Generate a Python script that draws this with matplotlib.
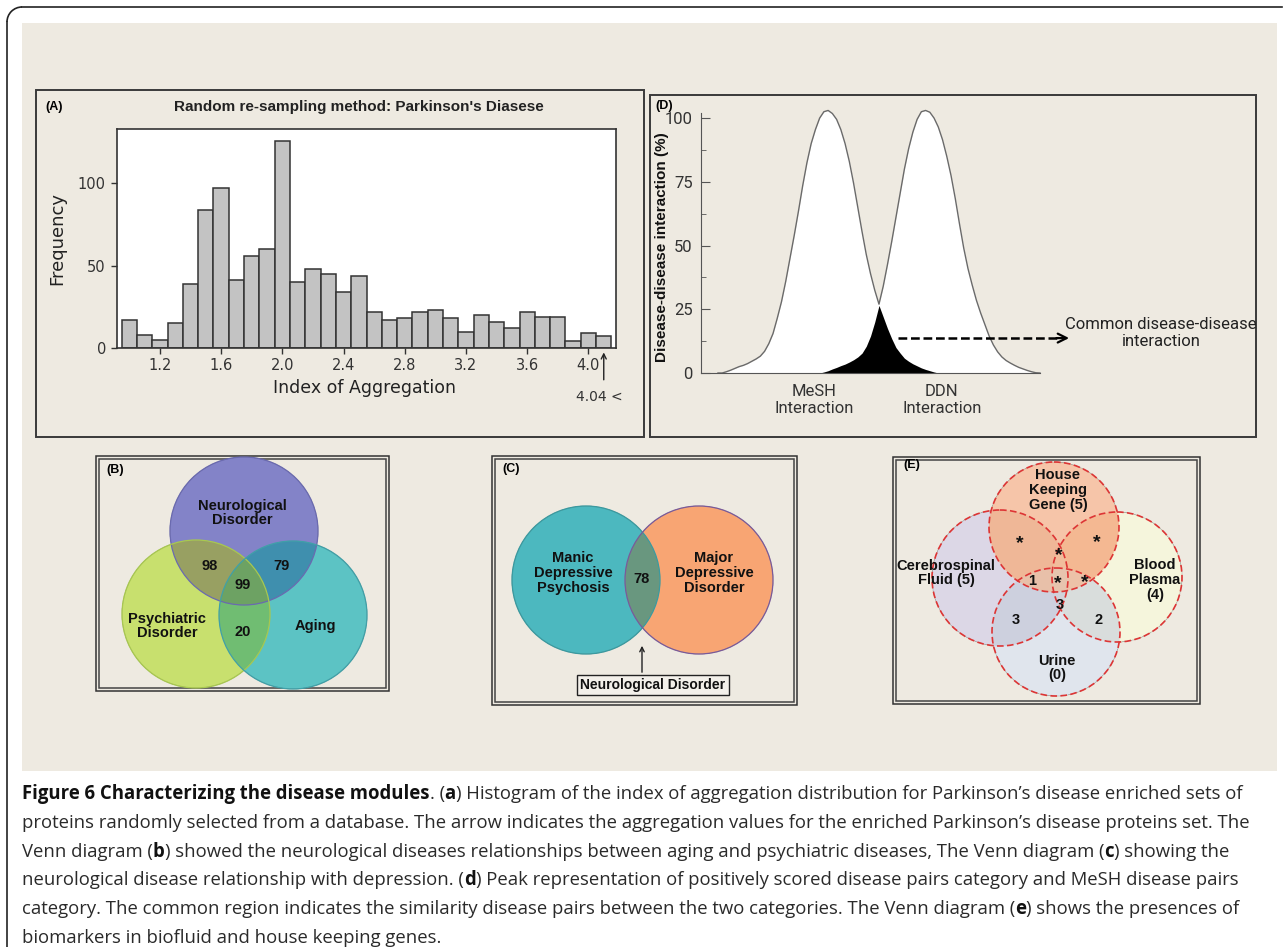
import numpy as np
import matplotlib.pyplot as plt
from matplotlib.patches import Rectangle, Circle, Arc
from matplotlib.colors import to_rgba

W, H = 1287, 947

# ---- panel A: histogram of index of aggregation ----
agg_bins = [1.0, 1.1, 1.2, 1.3, 1.4, 1.5, 1.6, 1.7, 1.8, 1.9, 2.0, 2.1, 2.2, 2.3, 2.4, 2.5,
            2.6, 2.7, 2.8, 2.9, 3.0, 3.1, 3.2, 3.3, 3.4, 3.5, 3.6, 3.7, 3.8, 3.9, 4.0, 4.1]
agg_freq = [17, 8, 5, 15, 39, 84, 97, 41, 56, 60, 126, 40, 48, 45, 34, 44,
            22, 17, 18, 22, 23, 18, 10, 20, 16, 12, 22, 19, 19, 4, 9, 7]
agg_ticks = [1.2, 1.6, 2.0, 2.4, 2.8, 3.2, 3.6, 4.0]
freq_ticks = [0, 50, 100]
pd_label = "4.04 <"
pd_arrow_at = 4.1

# ---- panel D: peak curves (x in arbitrary units 0-100) ----
peak_x = [5, 6.25, 7.5, 8.75, 10, 11.25, 12.5, 13.75, 15, 16.25, 17.5, 18.75, 20, 21.25,
          22.5, 23.75, 25, 26.25, 27.5, 28.75, 30, 31.25, 32.5, 33.75, 35, 36.25, 37.5,
          38.75, 40, 41.25, 42.5, 43.75, 45, 46.25, 47.5, 48.75, 50, 51.25, 52.5, 53.75,
          55, 56.25, 57.5, 58.75, 60, 61.25, 62.5, 63.75, 65, 66.25, 67.5, 68.75, 70,
          71.25, 72.5, 73.75, 75, 76.25, 77.5, 78.75, 80, 81.25, 82.5, 83.75, 85, 86.25,
          87.5, 88.75, 90, 91.25, 92.5, 93.75, 95, 96.25, 97.5, 98.75, 100]
mesh_pct = [0, 0, 0.5, 1.1, 1.8, 2.5, 3.0, 3.7, 4.6, 5.5, 6.6, 8.5, 11.5, 15.5,
            21.5, 28, 36, 45, 54, 63.5, 73.5, 82.5, 90, 95.5, 100, 102.5, 103,
            101.8, 99.5, 95.5, 90, 83, 74.5, 65, 55.5, 46.5, 39, 32.5, 27, 22,
            17.5, 13.5, 10, 7.8, 5.8, 4.6, 3.6, 2.8, 2.0, 1.4, 0.9, 0.4, 0,
            0, 0, 0, 0, 0, 0, 0, 0, 0, 0, 0, 0, 0,
            0, 0, 0, 0, 0, 0, 0, 0, 0, 0, 0]
ddn_pct = [0, 0, 0, 0, 0, 0, 0, 0, 0, 0, 0, 0, 0, 0,
           0, 0, 0, 0, 0, 0, 0, 0, 0, 0, 0, 0.4, 0.9,
           1.6, 2.2, 2.9, 3.5, 4.3, 5.2, 6.3, 7.8, 10.5, 14.5, 20, 26.5, 34,
           42.5, 51.5, 61, 70.5, 80, 88, 94.5, 99.5, 102.5, 103, 102.3, 100, 96.5,
           91.5, 85, 77.5, 68.5, 58.5, 49, 41, 34.5, 28.5, 23.5, 19, 14.5, 11,
           8.3, 6.3, 4.9, 3.9, 3.0, 2.2, 1.6, 1.0, 0.5, 0.1, 0]
pct_ticks = [0, 25, 50, 75, 100]
peak_names = ["MeSH\nInteraction", "DDN\nInteraction"]
common_level = 13.7

# ---- panels B, C, E: Venn diagrams ----
b_sets = ["Neurological\nDisorder", "Psychiatric\nDisorder", "Aging"]
b_counts = ["98", "79", "99", "20"]
c_sets = ["Manic\nDepressive\nPsychosis", "Major\nDepressive\nDisorder"]
c_count = "78"
c_note = "Neurological Disorder"
e_sets = ["House\nKeeping\nGene (5)", "Cerebrospinal\nFluid (5)", "Blood\nPlasma\n(4)", "Urine\n(0)"]
e_counts = ["*", "*", "*", "1", "*", "*", "3", "3", "2"]

caption = [
    [("Figure 6 Characterizing the disease modules", True), (". (", False), ("a", True),
     (") Histogram of the index of aggregation distribution for Parkinson\u2019s disease enriched sets of", False)],
    [("proteins randomly selected from a database. The arrow indicates the aggregation values for the enriched Parkinson\u2019s disease proteins set. The", False)],
    [("Venn diagram (", False), ("b", True),
     (") showed the neurological diseases relationships between aging and psychiatric diseases, The Venn diagram (", False),
     ("c", True), (") showing the", False)],
    [("neurological disease relationship with depression. (", False), ("d", True),
     (") Peak representation of positively scored disease pairs category and MeSH disease pairs", False)],
    [("category. The common region indicates the similarity disease pairs between the two categories. The Venn diagram (", False),
     ("e", True), (") shows the presences of", False)],
    [("biomarkers in biofluid and house keeping genes.", False)],
]

BEIGE = '#eeeae1'
NARROW = ['Roboto', 'DejaVu Sans']
ARIAL = ['Liberation Sans', 'DejaVu Sans']

fig = plt.figure(figsize=(W / 100, H / 100), dpi=100)
fig.patch.set_facecolor('white')

# overlay axes in pixel units (y down)
ov = fig.add_axes([0, 0, 1, 1])
ov.set_xlim(0, W)
ov.set_ylim(H, 0)
ov.axis('off')

# page border with rounded corner, beige plate
ov.plot([7, 7], [22, H], color='#222', lw=1.2)
ov.plot([22, 1282], [7, 7], color='#222', lw=1.2)
ov.add_patch(Arc((22, 22), 30, 30, theta1=180, theta2=270, color='#222', lw=1.2))
ov.add_patch(Rectangle((22, 23), 1255, 748, facecolor=BEIGE, edgecolor='none'))

# single frames (A, D)
ov.add_patch(Rectangle((36, 90), 608, 347, fill=False, edgecolor='#3a3a3a', lw=1.4))
ov.add_patch(Rectangle((650, 95), 606, 342, fill=False, edgecolor='#3a3a3a', lw=1.4))


def double_frame(x0, y0, x1, y1):
    ov.add_patch(Rectangle((x0, y0), x1 - x0, y1 - y0, fill=False, edgecolor='#333', lw=1.1))
    ov.add_patch(Rectangle((x0 + 3, y0 + 3), x1 - x0 - 6, y1 - y0 - 6, fill=False,
                           edgecolor='#444', lw=1.1))


double_frame(96, 456, 389, 691)
double_frame(492, 456, 797, 705)
double_frame(893, 457, 1200, 704)


def venn_fill(circles, palette, box):
    x0, y0, x1, y1 = box
    xs = np.arange(x0, x1, 0.5) + 0.25
    ys = np.arange(y0, y1, 0.5) + 0.25
    X, Y = np.meshgrid(xs, ys)
    code = np.zeros(X.shape, dtype=int)
    for i, (cx, cy, r) in enumerate(circles):
        code |= (((X - cx) ** 2 + (Y - cy) ** 2) <= r * r).astype(int) << i
    rgba = np.zeros(X.shape + (4,))
    for k, col in palette.items():
        rgba[code == k] = to_rgba(col)
    ov.imshow(rgba, extent=(x0, x1, y1, y0), interpolation='antialiased',
              aspect='auto', zorder=2)


# ---- panel B ----
b_circ = [(244, 531, 74), (196, 614, 74), (293, 615, 74)]
venn_fill(b_circ, {1: '#8383c9', 2: '#c9e06e', 4: '#5cc3c4', 3: '#98a062',
                   5: '#3f8fae', 6: '#70bd72', 7: '#6da263'}, (100, 455, 386, 690))
for (cx, cy, r), ec in zip(b_circ, ['#6a6ab0', '#a8c850', '#40a0a8']):
    ov.add_patch(Circle((cx, cy), r, fill=False, edgecolor=ec, lw=0.9, zorder=3))
bfont = dict(family=ARIAL, fontweight='bold', fontsize=10.5, color='#111',
             ha='center', va='center', zorder=4, linespacing=1.05)
ov.text(242, 513, b_sets[0], **bfont)
ov.text(167, 626, b_sets[1], **bfont)
ov.text(315, 626, b_sets[2], **bfont)
for (tx, ty), s in zip([(210, 566), (282, 566), (243, 585), (243, 632)], b_counts):
    ov.text(tx, ty, s, **bfont)
ov.text(106, 470, "(B)", family=ARIAL, fontweight='bold', fontsize=9, ha='left', va='center')

# ---- panel C ----
c_circ = [(586, 580, 74), (699, 580, 74)]
venn_fill(c_circ, {1: '#4db8bf', 2: '#f8a674', 3: '#6a977f'}, (496, 500, 794, 660))
for (cx, cy, r), ec in zip(c_circ, ['#3a9aa0', '#7a5a9a']):
    ov.add_patch(Circle((cx, cy), r, fill=False, edgecolor=ec, lw=0.9, zorder=3))
ov.text(573, 573, c_sets[0], **bfont)
ov.text(714, 573, c_sets[1], **bfont)
ov.text(642, 579, c_count, **bfont)
ov.annotate('', xy=(642, 643), xytext=(642, 675),
            arrowprops=dict(arrowstyle='->', color='#222', lw=1, mutation_scale=8), zorder=4)
ov.text(653, 685, c_note, family=ARIAL, fontweight='bold', fontsize=10, color='#111',
        ha='center', va='center', zorder=4,
        bbox=dict(boxstyle='square,pad=0.22', fc='#f3f0ea', ec='#222', lw=1))
ov.text(502, 469, "(C)", family=ARIAL, fontweight='bold', fontsize=9, ha='left', va='center')

# ---- panel E ----
e_circ = [(1054, 527, 65), (1000, 578, 68), (1117, 577, 65), (1056, 632, 64)]
e_pal = {1: '#f6c5a9', 2: '#dcd8e6', 4: '#f5f5dc', 8: '#e0e5ee', 3: '#efb797',
         5: '#f4b992', 7: '#f1be9c', 9: '#eec6ae', 11: '#e9c0a9', 13: '#ecc2a8',
         15: '#e8c4ae', 10: '#cdd0de', 12: '#d9dddc', 14: '#d2d3da', 6: '#d8d6d8'}
venn_fill(e_circ, e_pal, (897, 460, 1197, 701))
for cx, cy, r in e_circ:
    ov.add_patch(Circle((cx, cy), r, fill=False, edgecolor='#dd3535', lw=1.2,
                        linestyle=(0, (4, 2)), zorder=3))
ov.text(1058, 490, e_sets[0], **bfont)
ov.text(946, 573, e_sets[1], **bfont)
ov.text(1155, 580, e_sets[2], **bfont)
ov.text(1057, 668, e_sets[3], **bfont)
e_pos = [(1020, 544), (1097, 543), (1059, 556), (1032, 581), (1058, 584), (1085, 583),
         (1060, 605), (1016, 620), (1099, 620)]
for (tx, ty), s in zip(e_pos, e_counts):
    fs = 14 if s == "*" else 10.5
    ov.text(tx, ty, s, family=ARIAL, fontweight='bold', fontsize=fs, color='#111',
            ha='center', va='center', zorder=4)
ov.text(903, 465, "(E)", family=ARIAL, fontweight='bold', fontsize=9, ha='left', va='center')

# ---- panel A ----
ov.text(45, 107, "(A)", family=ARIAL, fontweight='bold', fontsize=9, ha='left', va='center')
ax = fig.add_axes([117 / W, 1 - 348 / H, 499 / W, 219 / H])
ax.set_facecolor('white')
ax.bar(agg_bins, agg_freq, width=0.1, color='#c3c3c3', edgecolor='#333', lw=1.1)
ax.set_xlim(0.92, 4.18)
ax.set_ylim(0, 133)
ax.set_xticks(agg_ticks)
ax.set_xticklabels([f"{t:.1f}" for t in agg_ticks])
ax.set_yticks(freq_ticks)
for s in ax.spines.values():
    s.set_color('#333')
    s.set_linewidth(1.2)
ax.tick_params(direction='out', length=4, width=1, color='#333', labelsize=10.5,
               labelcolor='#333')
ax.tick_params(axis='x', pad=3)
ax.tick_params(axis='y', pad=4)
ax.set_title("Random re-sampling method: Parkinson's Diasese", x=0.485, pad=13,
             fontsize=11, fontweight='bold', family=ARIAL, color='#222')
ax.set_xlabel("Index of Aggregation", fontsize=12.5, color='#222')
ax.xaxis.set_label_coords(0.495, -0.183)
ax.xaxis.label.set_va('center')
ax.set_ylabel("Frequency", fontsize=13, color='#222')
ax.yaxis.set_label_coords(-0.12, 0.5)
ax.yaxis.label.set_va('center')
ax.annotate('', xy=(pd_arrow_at, -1), xytext=(pd_arrow_at, -21),
            arrowprops=dict(arrowstyle='->', color='#222', lw=1, mutation_scale=9),
            annotation_clip=False)
ax.text(pd_arrow_at - 0.03, -30, pd_label, ha='center', va='center', fontsize=10,
        color='#333', clip_on=False)

# ---- panel D ----
ov.text(655, 106, "(D)", family=ARIAL, fontweight='bold', fontsize=9, ha='left', va='center')
ad = fig.add_axes([701 / W, 1 - 373 / H, 339 / W, 260 / H])
ad.patch.set_alpha(0)
mesh = np.array(mesh_pct)
ddn = np.array(ddn_pct)
ad.fill_between(peak_x, 0, np.maximum(mesh, ddn), color='white', lw=0, clip_on=False)
ad.fill_between(peak_x, 0, np.minimum(mesh, ddn), color='black', lw=0, clip_on=False)
ad.plot(peak_x, np.maximum(mesh, ddn), color='#6a6a6a', lw=1, clip_on=False)
ad.set_xlim(0, 100)
ad.set_ylim(0, 102)
ad.spines['top'].set_visible(False)
ad.spines['right'].set_visible(False)
ad.spines['left'].set_color('#555')
ad.spines['bottom'].set_color('#555')
ad.set_yticks(pct_ticks)
ad.set_yticks([12.5, 37.5, 62.5, 87.5], minor=True)
ad.tick_params(axis='y', which='major', direction='in', length=6.5, color='#555',
               pad=6, labelsize=12, labelcolor='#333')
ad.tick_params(axis='y', which='minor', direction='in', length=3.5, color='#555')
for lab in ad.get_yticklabels():
    lab.set_family(NARROW)
ad.set_xticks([33.3, 71])
ad.set_xticklabels(peak_names, family=NARROW, fontsize=12, color='#333', linespacing=1.15)
ad.tick_params(axis='x', length=0, pad=8)
ad.set_ylabel("Disease-disease interaction (%)", fontsize=11, fontweight='bold',
              family=ARIAL, color='#111')
ad.yaxis.set_label_coords(-0.115, 0.485)
ad.yaxis.label.set_va('center')
ad.plot([58, 106], [common_level, common_level], color='black', lw=1.8,
        linestyle=(0, (3.5, 1.5)), clip_on=False)
ad.annotate('', xy=(109.4, common_level), xytext=(104, common_level),
            arrowprops=dict(arrowstyle='->', color='black', lw=1.6, mutation_scale=16),
            annotation_clip=False)
ov.text(1161, 333, "Common disease-disease\ninteraction", family=NARROW, fontsize=12,
        color='#222', ha='center', va='center', linespacing=1.2)

# ---- caption ----
renderer = fig.canvas.get_renderer()
CAP_FONT = ['Open Sans', 'DejaVu Sans']


def adv(txt, bold, fs):
    kw = dict(fontsize=fs, family=CAP_FONT, fontweight='bold' if bold else 'normal')
    t1 = ov.text(0, 0, "|" + txt + "|", **kw)
    t2 = ov.text(0, 0, "||", **kw)
    w = t1.get_window_extent(renderer).width - t2.get_window_extent(renderer).width
    t1.remove()
    t2.remove()
    return w


base = 12
w2 = sum(adv(t, b, base) for t, b in caption[1])
cap_fs = base * 1223 / w2
y = 794
for line in caption:
    x = 22
    for txt, bold in line:
        ov.text(x, y, txt, fontsize=cap_fs, family=CAP_FONT,
                fontweight='bold' if bold else 'normal',
                color='#111' if bold else '#2a2a2a', ha='left', va='center')
        x += adv(txt, bold, cap_fs)
    y += 28.8

ov.set_xlim(0, W)
ov.set_ylim(H, 0)
fig.savefig("out.png", dpi=100)
